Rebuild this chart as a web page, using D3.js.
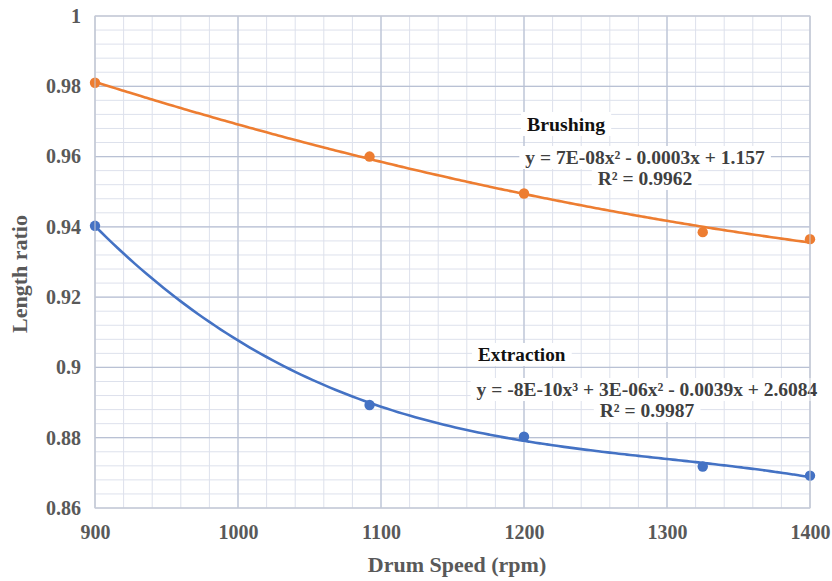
<!DOCTYPE html>
<html>
<head>
<meta charset="utf-8">
<script src="https://cdn.jsdelivr.net/npm/d3@7"></script>
<style>
  body { margin: 0; background: #fff; }
  #graph text { font-family: "Liberation Serif", "Times New Roman", serif; font-weight: bold; }
</style>
</head>
<body>
<div id="graph"></div>
<script>
// values
const speeds = [900, 1092, 1200, 1325, 1400];
const brushing = [0.981, 0.960, 0.9495, 0.9385, 0.9365];
const extraction = [0.9403, 0.8893, 0.8803, 0.8718, 0.8692];
const xTicks = [900, 1000, 1100, 1200, 1300, 1400];
const yTicks = [0.86, 0.88, 0.9, 0.92, 0.94, 0.96, 0.98, 1];
const brushLabel = ["Brushing", "y = 7E-08x² - 0.0003x + 1.157", "R² = 0.9962"];
const extrLabel = ["Extraction", "y = -8E-10x³ + 3E-06x² - 0.0039x + 2.6084", "R² = 0.9987"];

// least squares polynomial (trendline like the spreadsheet one)
function polyfit(xs, ys, deg) {
    const t = xs.map(x => (x - 1150) / 250);
    const n = deg + 1;
    const A = [];
    for (let i = 0; i < n; i++) {
        A.push([]);
        for (let j = 0; j < n; j++) A[i].push(d3.sum(t, v => Math.pow(v, i + j)));
        A[i].push(d3.sum(t, (v, k) => ys[k] * Math.pow(v, i)));
    }
    for (let c = 0; c < n; c++) {
        for (let r = c + 1; r < n; r++) {
            const f = A[r][c] / A[c][c];
            for (let k = c; k <= n; k++) A[r][k] -= f * A[c][k];
        }
    }
    const coef = new Array(n).fill(0);
    for (let r = n - 1; r >= 0; r--) {
        let s = A[r][n];
        for (let k = r + 1; k < n; k++) s -= A[r][k] * coef[k];
        coef[r] = s / A[r][r];
    }
    return x => { const v = (x - 1150) / 250; return d3.sum(coef, (c, i) => c * Math.pow(v, i)); };
}

const width = 832, height = 581;
const padLeft = 95, padRight = 810, padTop = 16, padBottom = 508;

const x = d3.scaleLinear().domain([900, 1400]).range([padLeft, padRight]);
const y = d3.scaleLinear().domain([0.86, 1]).range([padBottom, padTop]);

const svg = d3.select("#graph").append("svg").attr("width", width).attr("height", height);

// minor grid
svg.append("g").selectAll("line").data(d3.range(900, 1400.1, 20)).enter().append("line")
    .attr("x1", d => x(d)).attr("x2", d => x(d)).attr("y1", padTop).attr("y2", padBottom)
    .attr("stroke", "#dde1ec").attr("stroke-width", 1);
svg.append("g").selectAll("line").data(d3.range(0, 36).map(i => 0.86 + i * 0.004)).enter().append("line")
    .attr("y1", d => y(d)).attr("y2", d => y(d)).attr("x1", padLeft).attr("x2", padRight)
    .attr("stroke", "#dde1ec").attr("stroke-width", 1);

// major grid
svg.append("g").selectAll("line").data(xTicks).enter().append("line")
    .attr("x1", d => x(d)).attr("x2", d => x(d)).attr("y1", padTop).attr("y2", padBottom)
    .attr("stroke", "#b9c1d4").attr("stroke-width", 1.2);
svg.append("g").selectAll("line").data(yTicks).enter().append("line")
    .attr("y1", d => y(d)).attr("y2", d => y(d)).attr("x1", padLeft).attr("x2", padRight)
    .attr("stroke", "#b9c1d4").attr("stroke-width", 1.2);

// axes, labels only
const fmt = d => d3.format(".2f")(d).replace(/0+$/, "").replace(/\.$/, "");
const yAxis = svg.append("g").attr("transform", "translate(" + (padLeft - 10) + ",0)")
    .call(d3.axisLeft(y).tickValues(yTicks).tickFormat(fmt).tickSize(0));
const xAxis = svg.append("g").attr("transform", "translate(0," + (padBottom + 10) + ")")
    .call(d3.axisBottom(x).tickValues(xTicks).tickFormat(d3.format("d")).tickSize(0));
[xAxis, yAxis].forEach(a => {
    a.select(".domain").remove();
    a.selectAll("text").attr("fill", "#595959").style("font-size", "20px");
});
xAxis.selectAll("text").attr("dy", "0.9em");
yAxis.selectAll("text").attr("dx", "-0.05em");

// axis titles
svg.append("text").attr("x", 457).attr("y", 572).attr("text-anchor", "middle")
    .attr("fill", "#595959").style("font-size", "22px").text("Drum Speed (rpm)");
svg.append("text").attr("transform", "translate(27,274) rotate(-90)")
    .attr("text-anchor", "middle").attr("fill", "#595959").style("font-size", "22px").text("Length ratio");

// trendlines
const samples = d3.range(900, 1400.1, 4);
const series = [
    { vals: brushing, deg: 2, color: "#ED7D31" },
    { vals: extraction, deg: 3, color: "#4472C4" }
];
series.forEach(s => {
    const f = polyfit(speeds, s.vals, s.deg);
    svg.append("path").datum(samples)
        .attr("d", d3.line().x(d => x(d)).y(d => y(f(d))).curve(d3.curveMonotoneX))
        .attr("fill", "none").attr("stroke", s.color).attr("stroke-width", 2.6);
    svg.append("g").selectAll("circle").data(speeds).enter().append("circle")
        .attr("cx", d => x(d)).attr("cy", (d, i) => y(s.vals[i])).attr("r", 5.2)
        .attr("fill", s.color);
});

// trendline labels with white backing per line
function label(lines, pos) {
    const g = svg.append("g");
    lines.forEach((t, i) => {
        const p = pos[i];
        const txt = g.append("text").attr("x", p[0]).attr("y", p[1])
            .attr("text-anchor", p[2]).attr("fill", i === 0 ? "#111" : "#404040")
            .style("font-size", p[3] + "px").text(t);
        const b = txt.node().getBBox();
        g.insert("rect", "text").attr("x", b.x - 6).attr("y", b.y - 1)
            .attr("width", b.width + 12).attr("height", b.height + 2).attr("fill", "#fff");
    });
}
label(brushLabel, [[527, 131, "start", 19.8], [645, 164, "middle", 19.5], [645, 185, "middle", 19.5]]);
label(extrLabel, [[478, 361, "start", 19.2], [647, 396, "middle", 19.5], [647, 417, "middle", 19.5]]);

// plot border
svg.append("rect").attr("x", padLeft).attr("y", padTop).attr("width", padRight - padLeft).attr("height", padBottom - padTop)
    .attr("fill", "none").attr("stroke", "#c8ccd6").attr("stroke-width", 1);
</script>
</body>
</html>
